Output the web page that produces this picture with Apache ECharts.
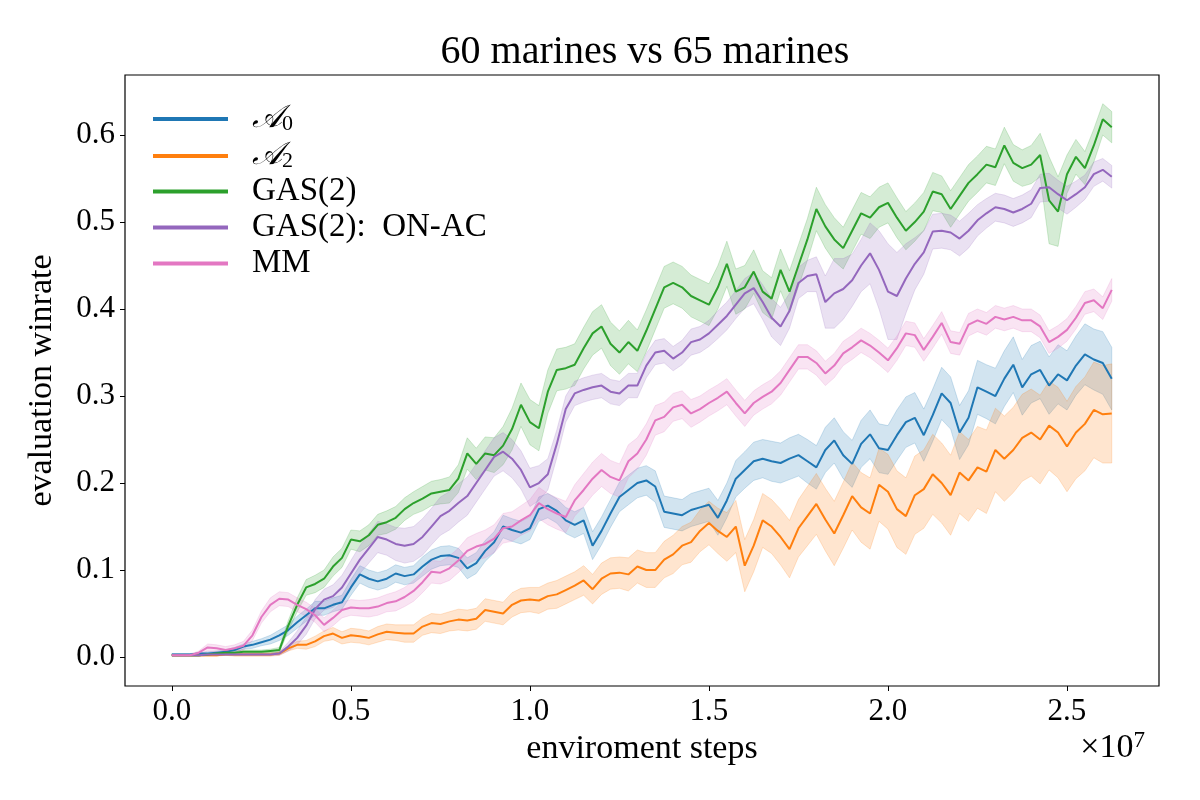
<!DOCTYPE html>
<html>
<head>
<meta charset="utf-8">
<script src="https://cdn.jsdelivr.net/npm/echarts@6/dist/echarts.min.js"></script>
<style>html,body{margin:0;padding:0;background:#fff}#c{width:1200px;height:800px}</style>
</head>
<body>
<div id="c"></div>
<script>
// environment steps in units of 1e7
const steps = [
0.000,0.025,0.050,0.075,0.100,0.125,0.150,0.175,0.200,0.225,
0.250,0.275,0.300,0.325,0.350,0.375,0.400,0.425,0.450,0.475,
0.500,0.525,0.550,0.575,0.600,0.625,0.650,0.675,0.700,0.725,
0.750,0.775,0.800,0.825,0.850,0.875,0.900,0.925,0.950,0.975,
1.000,1.025,1.050,1.075,1.100,1.125,1.150,1.175,1.200,1.225,
1.250,1.275,1.300,1.325,1.350,1.375,1.400,1.425,1.450,1.475,
1.500,1.525,1.550,1.575,1.600,1.625,1.650,1.675,1.700,1.725,
1.750,1.775,1.800,1.825,1.850,1.875,1.900,1.925,1.950,1.975,
2.000,2.025,2.050,2.075,2.100,2.125,2.150,2.175,2.200,2.225,
2.250,2.275,2.300,2.325,2.350,2.375,2.400,2.425,2.450,2.475,
2.500,2.525,2.550,2.575,2.600,2.625];

const a0Mean = [
0.003,0.003,0.003,0.004,0.004,0.005,0.006,0.008,0.012,0.014,
0.017,0.020,0.025,0.031,0.040,0.048,0.056,0.056,0.060,0.063,
0.080,0.095,0.090,0.087,0.090,0.096,0.093,0.095,0.104,0.112,
0.116,0.117,0.114,0.102,0.108,0.122,0.132,0.150,0.146,0.143,
0.148,0.170,0.174,0.168,0.157,0.152,0.157,0.128,0.145,0.165,
0.184,0.192,0.200,0.203,0.196,0.167,0.165,0.163,0.169,0.172,
0.175,0.160,0.180,0.205,0.215,0.225,0.228,0.225,0.223,0.228,
0.232,0.225,0.218,0.238,0.249,0.232,0.222,0.245,0.256,0.240,
0.238,0.255,0.270,0.275,0.255,0.278,0.303,0.292,0.258,0.275,
0.310,0.305,0.300,0.320,0.336,0.310,0.325,0.330,0.312,0.325,
0.318,0.335,0.348,0.342,0.338,0.320];
const a0Half = [
0.001,0.001,0.001,0.001,0.002,0.002,0.002,0.003,0.003,0.004,
0.004,0.005,0.006,0.006,0.007,0.007,0.008,0.008,0.008,0.008,
0.009,0.010,0.010,0.010,0.010,0.010,0.010,0.010,0.011,0.011,
0.011,0.011,0.011,0.012,0.012,0.012,0.012,0.013,0.013,0.013,
0.013,0.014,0.014,0.014,0.015,0.015,0.015,0.016,0.016,0.016,
0.017,0.017,0.017,0.017,0.018,0.018,0.018,0.018,0.019,0.019,
0.019,0.020,0.020,0.021,0.021,0.022,0.022,0.023,0.023,0.024,
0.024,0.025,0.025,0.026,0.026,0.027,0.027,0.027,0.028,0.028,
0.028,0.029,0.029,0.029,0.030,0.030,0.030,0.030,0.031,0.031,
0.031,0.031,0.032,0.032,0.032,0.032,0.033,0.033,0.033,0.034,
0.034,0.034,0.035,0.035,0.036,0.036];

const a2Mean = [
0.002,0.002,0.002,0.002,0.002,0.002,0.003,0.003,0.003,0.003,
0.003,0.003,0.004,0.010,0.014,0.014,0.018,0.024,0.027,0.022,
0.025,0.024,0.022,0.026,0.029,0.028,0.027,0.027,0.035,0.039,
0.038,0.041,0.043,0.042,0.044,0.054,0.052,0.050,0.060,0.065,
0.066,0.065,0.070,0.072,0.077,0.082,0.088,0.078,0.090,0.096,
0.097,0.095,0.104,0.100,0.100,0.112,0.118,0.128,0.132,0.145,
0.154,0.145,0.138,0.150,0.105,0.128,0.157,0.150,0.138,0.124,
0.148,0.162,0.176,0.158,0.142,0.163,0.185,0.172,0.165,0.198,
0.190,0.170,0.162,0.186,0.193,0.210,0.200,0.186,0.212,0.203,
0.218,0.213,0.238,0.228,0.238,0.252,0.258,0.250,0.266,0.258,
0.242,0.258,0.268,0.284,0.279,0.280];
const a2Half = [
0.001,0.001,0.001,0.001,0.001,0.001,0.001,0.002,0.002,0.002,
0.002,0.002,0.002,0.003,0.004,0.005,0.006,0.006,0.007,0.007,
0.008,0.008,0.008,0.009,0.009,0.009,0.010,0.010,0.010,0.011,
0.011,0.011,0.012,0.012,0.012,0.013,0.013,0.013,0.014,0.014,
0.014,0.015,0.015,0.016,0.016,0.016,0.017,0.017,0.018,0.018,
0.018,0.019,0.019,0.020,0.020,0.021,0.022,0.022,0.023,0.024,
0.025,0.026,0.028,0.030,0.030,0.030,0.031,0.031,0.032,0.033,
0.033,0.034,0.035,0.036,0.037,0.038,0.039,0.040,0.041,0.042,
0.043,0.044,0.044,0.045,0.045,0.046,0.046,0.046,0.047,0.047,
0.047,0.048,0.048,0.049,0.049,0.050,0.050,0.051,0.051,0.052,
0.052,0.053,0.054,0.055,0.056,0.057];

const gasMean = [
0.002,0.002,0.002,0.002,0.003,0.004,0.005,0.005,0.006,0.006,
0.006,0.007,0.008,0.036,0.060,0.080,0.084,0.090,0.104,0.114,
0.135,0.133,0.140,0.152,0.155,0.160,0.170,0.177,0.182,0.188,
0.190,0.192,0.205,0.234,0.222,0.234,0.232,0.243,0.262,0.290,
0.270,0.263,0.305,0.330,0.332,0.336,0.355,0.372,0.380,0.360,
0.350,0.362,0.352,0.375,0.400,0.425,0.430,0.425,0.415,0.410,
0.405,0.425,0.452,0.420,0.425,0.443,0.420,0.412,0.445,0.420,
0.450,0.480,0.515,0.495,0.480,0.470,0.490,0.510,0.505,0.517,
0.522,0.505,0.490,0.500,0.512,0.535,0.532,0.515,0.530,0.545,
0.555,0.566,0.563,0.588,0.568,0.562,0.566,0.577,0.525,0.512,
0.555,0.575,0.562,0.588,0.618,0.609];
const gasHalf = [
0.001,0.001,0.001,0.001,0.001,0.001,0.002,0.002,0.002,0.002,
0.002,0.002,0.003,0.006,0.008,0.009,0.010,0.010,0.011,0.011,
0.011,0.012,0.012,0.012,0.013,0.013,0.013,0.013,0.014,0.014,
0.014,0.015,0.016,0.018,0.018,0.019,0.020,0.022,0.024,0.025,
0.026,0.026,0.025,0.024,0.024,0.024,0.024,0.025,0.025,0.025,
0.025,0.025,0.024,0.024,0.024,0.024,0.024,0.024,0.024,0.024,
0.024,0.025,0.026,0.026,0.025,0.025,0.024,0.024,0.024,0.024,
0.024,0.024,0.025,0.025,0.025,0.024,0.024,0.024,0.024,0.023,
0.023,0.023,0.022,0.022,0.022,0.022,0.021,0.021,0.021,0.021,
0.021,0.021,0.021,0.021,0.021,0.021,0.022,0.025,0.050,0.040,
0.022,0.020,0.019,0.019,0.018,0.018];

const onacMean = [
0.002,0.002,0.002,0.002,0.003,0.003,0.003,0.003,0.003,0.003,
0.003,0.003,0.004,0.012,0.022,0.036,0.055,0.066,0.070,0.080,
0.096,0.112,0.125,0.138,0.135,0.130,0.128,0.130,0.138,0.150,
0.162,0.168,0.177,0.185,0.200,0.215,0.230,0.236,0.228,0.215,
0.195,0.200,0.210,0.245,0.285,0.303,0.307,0.310,0.312,0.305,
0.303,0.312,0.312,0.335,0.350,0.352,0.343,0.350,0.362,0.365,
0.372,0.382,0.392,0.405,0.418,0.424,0.408,0.390,0.380,0.398,
0.430,0.438,0.440,0.408,0.418,0.423,0.433,0.450,0.464,0.445,
0.420,0.415,0.435,0.452,0.465,0.489,0.490,0.488,0.481,0.490,
0.502,0.510,0.517,0.515,0.511,0.515,0.521,0.539,0.540,0.532,
0.525,0.532,0.540,0.555,0.560,0.552];
const onacHalf = [
0.001,0.001,0.001,0.001,0.001,0.001,0.001,0.001,0.001,0.001,
0.001,0.001,0.002,0.005,0.008,0.010,0.011,0.012,0.013,0.014,
0.015,0.016,0.017,0.018,0.018,0.019,0.020,0.020,0.021,0.021,
0.022,0.022,0.022,0.022,0.022,0.022,0.022,0.022,0.022,0.022,
0.022,0.020,0.018,0.016,0.015,0.014,0.014,0.014,0.014,0.014,
0.014,0.014,0.014,0.014,0.014,0.014,0.014,0.014,0.015,0.015,
0.015,0.016,0.016,0.016,0.017,0.018,0.020,0.022,0.022,0.020,
0.018,0.018,0.020,0.030,0.040,0.035,0.030,0.030,0.035,0.045,
0.055,0.050,0.040,0.030,0.025,0.020,0.020,0.020,0.020,0.020,
0.018,0.017,0.016,0.016,0.016,0.016,0.016,0.016,0.016,0.016,
0.016,0.015,0.014,0.014,0.013,0.013];

const mmMean = [
0.002,0.002,0.002,0.005,0.011,0.010,0.008,0.010,0.013,0.025,
0.046,0.060,0.067,0.066,0.060,0.055,0.048,0.037,0.045,0.054,
0.057,0.056,0.056,0.058,0.062,0.064,0.069,0.076,0.086,0.098,
0.097,0.102,0.111,0.122,0.127,0.130,0.136,0.148,0.150,0.157,
0.163,0.177,0.170,0.165,0.161,0.180,0.192,0.205,0.215,0.207,
0.203,0.225,0.234,0.250,0.272,0.276,0.287,0.290,0.280,0.285,
0.292,0.298,0.305,0.292,0.280,0.292,0.299,0.305,0.315,0.330,
0.345,0.345,0.338,0.326,0.335,0.349,0.356,0.364,0.358,0.350,
0.341,0.355,0.372,0.370,0.353,0.368,0.384,0.362,0.360,0.382,
0.387,0.383,0.391,0.388,0.391,0.387,0.387,0.380,0.362,0.368,
0.376,0.390,0.407,0.410,0.401,0.422];
const mmHalf = [
0.001,0.001,0.001,0.002,0.004,0.004,0.004,0.004,0.005,0.006,
0.007,0.008,0.008,0.008,0.008,0.008,0.008,0.008,0.009,0.009,
0.009,0.009,0.010,0.010,0.010,0.011,0.011,0.012,0.012,0.013,
0.013,0.014,0.014,0.015,0.015,0.016,0.016,0.017,0.017,0.017,
0.018,0.018,0.018,0.018,0.018,0.018,0.019,0.019,0.019,0.019,
0.019,0.019,0.018,0.018,0.017,0.017,0.016,0.016,0.016,0.015,
0.015,0.015,0.015,0.015,0.015,0.014,0.014,0.014,0.014,0.014,
0.014,0.014,0.014,0.014,0.014,0.014,0.014,0.014,0.014,0.014,
0.014,0.014,0.014,0.014,0.013,0.013,0.013,0.013,0.013,0.013,
0.013,0.013,0.013,0.013,0.013,0.013,0.013,0.013,0.013,0.013,
0.013,0.013,0.013,0.013,0.013,0.013];

const xTicks = [0.0, 0.5, 1.0, 1.5, 2.0, 2.5];
const yTicks = [0.0, 0.1, 0.2, 0.3, 0.4, 0.5, 0.6];

const seriesDefs = [
  {name: 'A0', label: '{a|𝒜}{s|0}', mean: a0Mean, half: a0Half, color: '#1f77b4', rgb: '31,119,180'},
  {name: 'A2', label: '{a|𝒜}{s|2}', mean: a2Mean, half: a2Half, color: '#ff7f0e', rgb: '255,127,14'},
  {name: 'GAS(2)', label: 'GAS(2)', mean: gasMean, half: gasHalf, color: '#2ca02c', rgb: '44,160,44'},
  {name: 'GAS(2): ON-AC', label: 'GAS(2):  ON-AC', mean: onacMean, half: onacHalf, color: '#9467bd', rgb: '148,103,189'},
  {name: 'MM', label: 'MM', mean: mmMean, half: mmHalf, color: '#e377c2', rgb: '227,119,194'}
];

const FONT = '"Liberation Serif", "DejaVu Serif", serif';
const series = [];
seriesDefs.forEach((d, i) => {
  series.push({
    name: d.name, type: 'line', showSymbol: false, symbol: 'none',
    data: steps.map((x, k) => [x, d.mean[k]]),
    lineStyle: {width: 2, color: d.color}, itemStyle: {color: d.color},
    z: 2
  });
  series.push({
    type: 'custom', silent: true, z: 2,
    data: [[steps[0], d.mean[0]]],
    encode: {x: 0, y: 1},
    renderItem: function (params, api) {
      const pts = [];
      for (let k = 0; k < steps.length; k++) pts.push(api.coord([steps[k], d.mean[k] + d.half[k]]));
      for (let k = steps.length - 1; k >= 0; k--) pts.push(api.coord([steps[k], d.mean[k] - d.half[k]]));
      return {
        type: 'polygon', shape: {points: pts},
        style: {fill: 'rgba(' + d.rgb + ',0.2)', stroke: 'rgba(' + d.rgb + ',0.2)', lineWidth: 1}
      };
    }
  });
});

const chart = echarts.init(document.getElementById('c'), null, {renderer: 'canvas'});
chart.setOption({
  animation: false,
  backgroundColor: '#fff',
  title: {
    text: '60 marines vs 65 marines', left: 640, top: 27, textAlign: 'center',
    textStyle: {fontFamily: FONT, fontSize: 40, fontWeight: 'normal', color: '#000'}
  },
  grid: {left: 125, right: 41, top: 75, bottom: 114, show: true, borderColor: '#000', borderWidth: 1.2, containLabel: false},
  legend: {
    orient: 'vertical', left: 148, top: 96,
    data: seriesDefs.map(d => d.name),
    icon: 'rect', itemWidth: 75, itemHeight: 4, itemGap: 3,
    formatter: n => seriesDefs.find(d => d.name === n).label,
    textStyle: {
      fontFamily: FONT, fontSize: 33, color: '#000', lineHeight: 32, padding: [0, 0, 0, 19],
      rich: {
        a: {fontFamily: FONT, fontSize: 32, fontStyle: 'italic', lineHeight: 32},
        s: {fontFamily: FONT, fontSize: 22, lineHeight: 32, verticalAlign: 'bottom', padding: [12, 0, 0, 0]}
      }
    }
  },
  xAxis: {
    type: 'value', min: -0.131, max: 2.757,
    name: 'enviroment steps', nameLocation: 'middle', nameGap: 42,
    nameTextStyle: {fontFamily: FONT, fontSize: 34, color: '#000'},
    axisLine: {show: false, onZero: false},
    axisTick: {show: true, length: 5, lineStyle: {color: '#000'}, customValues: xTicks},
    axisLabel: {fontFamily: FONT, fontSize: 31, color: '#000', margin: 10, customValues: xTicks, formatter: v => v.toFixed(1)},
    splitLine: {show: false}
  },
  yAxis: {
    type: 'value', min: -0.0333, max: 0.669,
    name: 'evaluation winrate', nameLocation: 'middle', nameGap: 66,
    nameTextStyle: {fontFamily: FONT, fontSize: 34, color: '#000'},
    axisLine: {show: false, onZero: false},
    axisTick: {show: true, length: 5, lineStyle: {color: '#000'}, customValues: yTicks},
    axisLabel: {fontFamily: FONT, fontSize: 31, color: '#000', margin: 10, customValues: yTicks, formatter: v => v.toFixed(1)},
    splitLine: {show: false}
  },
  graphic: [{
    type: 'text', right: 55, top: 729,
    style: {text: '×10{e|7}', fontFamily: FONT, fontSize: 34, fill: '#000',
      rich: {e: {fontFamily: FONT, fontSize: 23, verticalAlign: 'top', padding: [0, 0, 16, 0]}}}
  }],
  series: series
});
</script>
</body>
</html>
